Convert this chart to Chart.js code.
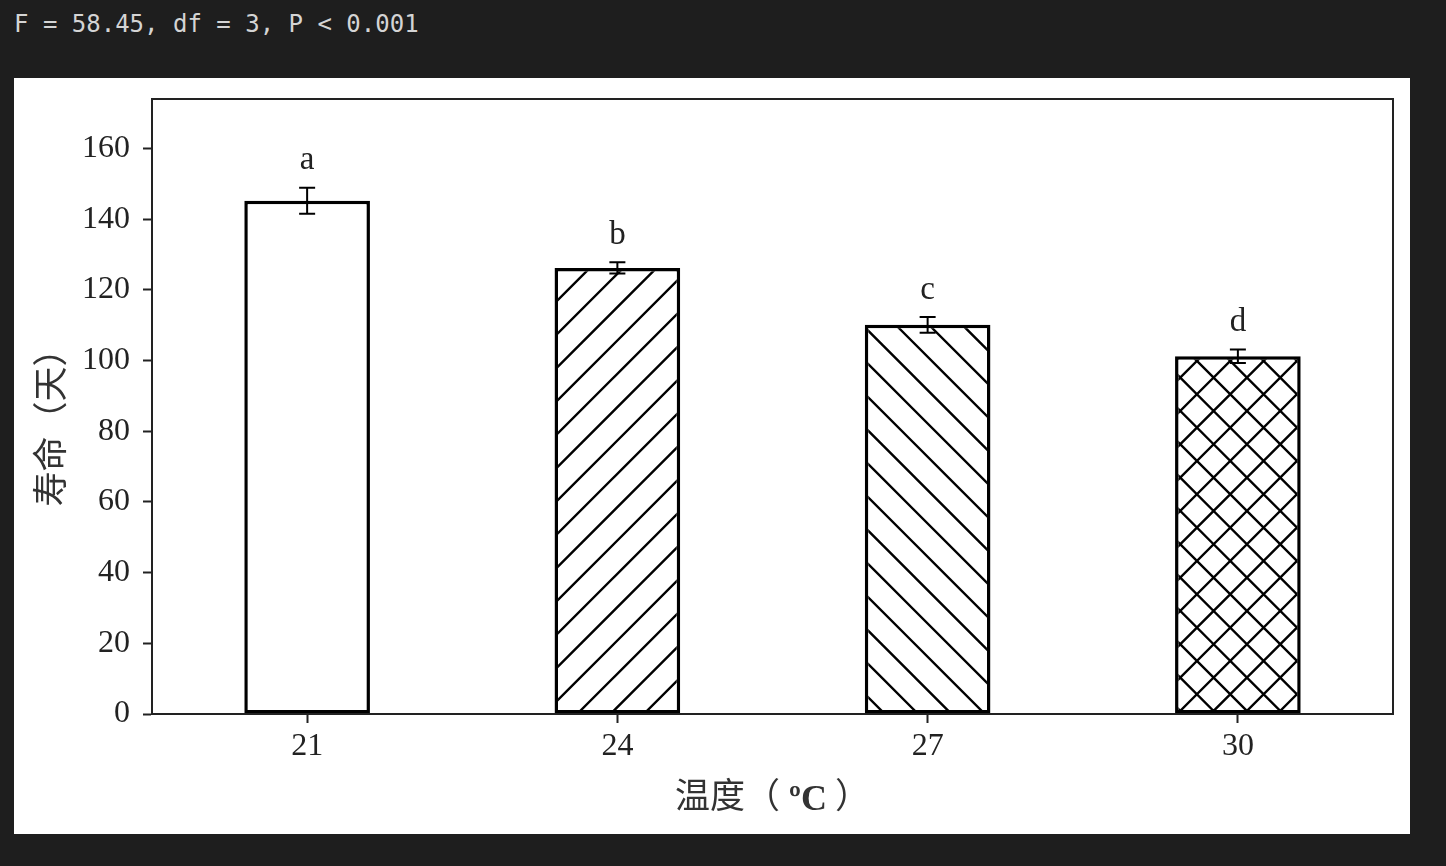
<!DOCTYPE html>
<html><head><meta charset="utf-8">
<script src="https://cdn.jsdelivr.net/npm/chart.js@4.4.1/dist/chart.umd.min.js"></script>
<style>
html,body{margin:0;padding:0;background:#1e1e1e;width:1446px;height:866px;overflow:hidden;}
#stat{position:absolute;left:14px;top:12px;font:24px/24px 'DejaVu Sans Mono',monospace;color:#d4d4d4;white-space:pre;}
#panel{position:absolute;left:14px;top:78px;width:1396px;height:756px;background:#fff;}
canvas{display:block;}
</style></head><body>
<div id="stat">F = 58.45, df = 3, P &lt; 0.001</div>
<div id="panel"><canvas id="c" width="1396" height="756"></canvas></div>
<script>
// ---- data ----
const categories = ['21', '24', '27', '30'];
const lifespan = [145.2, 126.2, 110.1, 101.2];
const stdErr = [3.7, 1.6, 2.2, 1.9];
const groupLetters = ['a', 'b', 'c', 'd'];
const yTicks = [0, 20, 40, 60, 80, 100, 120, 140, 160];
const yMax = 174;
const yTitle = '寿命（天）';
const xTitleParts = ['温度（', 'ºC', '）'];

// ---- styles ----
const SERIF = "'Liberation Serif', 'Times New Roman', serif";
const CJK = "'Noto Sans CJK SC', sans-serif";
const INK = '#222';

function makeHatch(slash, back, phaseA, phaseB) {
  const T = 100, P = 100 / 3;
  const c = document.createElement('canvas'); c.width = T; c.height = T;
  const g = c.getContext('2d');
  g.fillStyle = '#fff'; g.fillRect(0, 0, T, T);
  g.strokeStyle = '#000'; g.lineWidth = 2.4;
  g.beginPath();
  if (slash) for (let k = -1; k <= 7; k++) { const s = phaseA + k * P; g.moveTo(s + 20, -20); g.lineTo(-20, s + 20); }
  if (back) for (let k = -4; k <= 4; k++) { const s = phaseB + k * P; g.moveTo(s - 20, -20); g.lineTo(s + T + 20, T + 20); }
  g.stroke();
  return g.createPattern(c, 'repeat');
}
const fills = ['#ffffff', makeHatch(true, false, 32.5, 0), makeHatch(false, true, 0, 1.5), makeHatch(true, true, 32.5, 0)];

const decor = {
  id: 'decor',
  afterDatasetsDraw(chart) {
    const ctx = chart.ctx, a = chart.chartArea;
    const y = chart.scales.y;
    const meta = chart.getDatasetMeta(0);
    ctx.save();
    // frame
    ctx.strokeStyle = INK; ctx.lineWidth = 2;
    ctx.strokeRect(a.left, a.top, a.right - a.left, a.bottom - a.top);
    // error bars + letters
    ctx.strokeStyle = '#000'; ctx.lineWidth = 2;
    meta.data.forEach((bar, i) => {
      const top = y.getPixelForValue(lifespan[i] + stdErr[i]);
      const bot = y.getPixelForValue(lifespan[i] - stdErr[i]);
      ctx.beginPath();
      ctx.moveTo(bar.x, top); ctx.lineTo(bar.x, bot);
      ctx.moveTo(bar.x - 8, top); ctx.lineTo(bar.x + 8, top);
      ctx.moveTo(bar.x - 8, bot); ctx.lineTo(bar.x + 8, bot);
      ctx.stroke();
      ctx.fillStyle = INK;
      ctx.font = '33px ' + SERIF;
      ctx.textAlign = 'center'; ctx.textBaseline = 'alphabetic';
      ctx.fillText(groupLetters[i], bar.x, top - 18.5);
    });
    ctx.restore();
  },
  afterDraw(chart) {
    const ctx = chart.ctx;
    ctx.save();
    ctx.fillStyle = '#333';
    // y title
    ctx.translate(36, 341);
    ctx.rotate(-Math.PI / 2);
    ctx.font = '35px ' + CJK;
    ctx.textAlign = 'center'; ctx.textBaseline = 'middle';
    ctx.fillText(yTitle, 0, 0);
    ctx.setTransform(1, 0, 0, 1, 0, 0);
    // x title
    let x = 661;
    ctx.textAlign = 'left';
    ctx.font = '35px ' + CJK; ctx.textBaseline = 'middle';
    ctx.fillText(xTitleParts[0], x, 717);
    x += ctx.measureText(xTitleParts[0]).width + 9;
    ctx.font = 'bold 36px ' + SERIF; ctx.textBaseline = 'alphabetic';
    ctx.fillText(xTitleParts[1], x, 732);
    x += ctx.measureText(xTitleParts[1]).width + 8;
    ctx.font = '35px ' + CJK; ctx.textBaseline = 'middle';
    ctx.fillText(xTitleParts[2], x, 717);
    ctx.restore();
  }
};

function noPad(s) { s.paddingTop = 0; s.paddingBottom = 0; s.paddingLeft = 0; s.paddingRight = 0; }

new Chart(document.getElementById('c'), {
  type: 'bar',
  data: {
    labels: categories,
    datasets: [{
      data: lifespan,
      backgroundColor: fills,
      borderColor: '#000',
      borderWidth: 3.5,
      borderSkipped: false,
      barPercentage: 0.405,
      categoryPercentage: 1
    }]
  },
  options: {
    responsive: false,
    animation: false,
    layout: { padding: { top: 21, right: 17, bottom: 0, left: 0 } },
    plugins: { legend: { display: false }, tooltip: { enabled: false } },
    scales: {
      x: {
        afterFit(s) { s.height = 120; noPad(s); },
        grid: { display: true, drawOnChartArea: false, drawTicks: true, tickLength: 9, tickWidth: 2, tickColor: INK, offset: false },
        border: { display: true, color: INK, width: 2 },
        ticks: { color: INK, font: { family: SERIF, size: 32 }, padding: 4 }
      },
      y: {
        min: 0, max: yMax,
        afterFit(s) { s.width = 138; noPad(s); },
        afterBuildTicks(s) { s.ticks = yTicks.map(v => ({ value: v })); },
        grid: { display: true, drawOnChartArea: false, drawTicks: true, tickLength: 9, tickWidth: 2, tickColor: INK },
        border: { display: true, color: INK, width: 2 },
        ticks: { color: INK, font: { family: SERIF, size: 32 }, padding: 13 }
      }
    }
  },
  plugins: [decor]
});
</script>
</body></html>
